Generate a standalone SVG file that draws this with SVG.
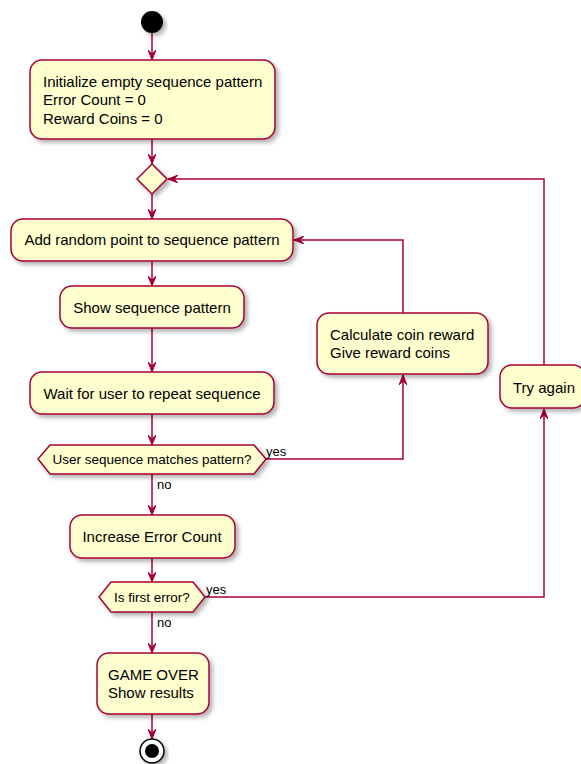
<svg xmlns="http://www.w3.org/2000/svg" width="581" height="764" viewBox="0 0 581 764">
<style>
.box{fill:#FEFECE;stroke:#A80036;stroke-width:1.5;filter:url(#sh)}
.ln{fill:none;stroke:#A80036;stroke-width:1.5}
.t{font-family:"Liberation Sans",Arial,sans-serif;font-size:15px;fill:#000}
.s{font-family:"Liberation Sans",Arial,sans-serif;font-size:13.5px;fill:#000}
.l{font-family:"Liberation Sans",Arial,sans-serif;font-size:13px;fill:#000}
</style>
<defs>
<filter id="sh" x="-20%" y="-20%" width="140%" height="160%">
<feDropShadow dx="3" dy="3" stdDeviation="2" flood-color="#000" flood-opacity="0.3"/>
</filter>
<marker id="ah" viewBox="0 0 10 8" refX="10" refY="4" markerWidth="10" markerHeight="8" markerUnits="userSpaceOnUse" orient="auto">
<path d="M0,0 L10,4 L0,8 L4,4 Z" fill="#A80036" stroke="#A80036" stroke-width="1"/>
</marker>
</defs>
<g id="connectors">
<path class="ln" d="M152,33 V60" marker-end="url(#ah)"/>
<path class="ln" d="M152,139 V164" marker-end="url(#ah)"/>
<path class="ln" d="M152,194 V219" marker-end="url(#ah)"/>
<path class="ln" d="M152,261 V286" marker-end="url(#ah)"/>
<path class="ln" d="M152,328 V372" marker-end="url(#ah)"/>
<path class="ln" d="M152,414 V445" marker-end="url(#ah)"/>
<path class="ln" d="M266,459 H403 V375" marker-end="url(#ah)"/>
<path class="ln" d="M403,313 V240 H294" marker-end="url(#ah)"/>
<path class="ln" d="M152,474 V515" marker-end="url(#ah)"/>
<path class="ln" d="M152,558 V582" marker-end="url(#ah)"/>
<path class="ln" d="M205,597 H544 V409" marker-end="url(#ah)"/>
<path class="ln" d="M544,365 V179 H168" marker-end="url(#ah)"/>
<path class="ln" d="M152,612 V653" marker-end="url(#ah)"/>
<path class="ln" d="M152,714 V739" marker-end="url(#ah)"/>
<text class="l" x="266" y="456">yes</text>
<text class="l" x="157" y="489">no</text>
<text class="l" x="206" y="594">yes</text>
<text class="l" x="157" y="627">no</text>
</g>
<g id="start"><circle cx="152" cy="22" r="11" fill="#000" filter="url(#sh)"/></g>
<g id="init">
<rect class="box" x="30" y="60" width="245" height="79" rx="12"/>
<text class="t" x="43" y="87">Initialize empty sequence pattern</text>
<text class="t" x="43" y="105">Error Count = 0</text>
<text class="t" x="43" y="124">Reward Coins = 0</text>
</g>
<g id="merge"><polygon class="box" points="152,164 167,179 152,194 137,179"/></g>
<g id="add">
<rect class="box" x="11" y="219" width="282" height="42" rx="12"/>
<text class="t" x="152" y="245" text-anchor="middle">Add random point to sequence pattern</text>
</g>
<g id="show">
<rect class="box" x="60" y="286" width="184" height="42" rx="12"/>
<text class="t" x="152" y="313" text-anchor="middle">Show sequence pattern</text>
</g>
<g id="wait">
<rect class="box" x="30" y="372" width="244" height="42" rx="12"/>
<text class="t" x="152" y="399" text-anchor="middle">Wait for user to repeat sequence</text>
</g>
<g id="match">
<polygon class="box" points="38,459 50,445 254,445 266,459 254,474 50,474"/>
<text class="s" x="152" y="464" text-anchor="middle">User sequence matches pattern?</text>
</g>
<g id="reward">
<rect class="box" x="317" y="313" width="171" height="61" rx="12"/>
<text class="t" x="330" y="340">Calculate coin reward</text>
<text class="t" x="330" y="358">Give reward coins</text>
</g>
<g id="try">
<rect class="box" x="500" y="365" width="85" height="43" rx="12"/>
<text class="t" x="513" y="393">Try again</text>
</g>
<g id="incr">
<rect class="box" x="70" y="515" width="165" height="43" rx="12"/>
<text class="t" x="152" y="542" text-anchor="middle">Increase Error Count</text>
</g>
<g id="first">
<polygon class="box" points="99,597 111,582 193,582 205,597 193,612 111,612"/>
<text class="s" x="152" y="602" text-anchor="middle">Is first error?</text>
</g>
<g id="gameover">
<rect class="box" x="97" y="653" width="112" height="61" rx="12"/>
<text class="t" x="108" y="680">GAME OVER</text>
<text class="t" x="108" y="698">Show results</text>
</g>
<g id="end">
<circle cx="152" cy="751" r="12" fill="#fff" stroke="#000" stroke-width="1.5" filter="url(#sh)"/>
<circle cx="152" cy="751" r="7" fill="#000"/>
</g>
</svg>
